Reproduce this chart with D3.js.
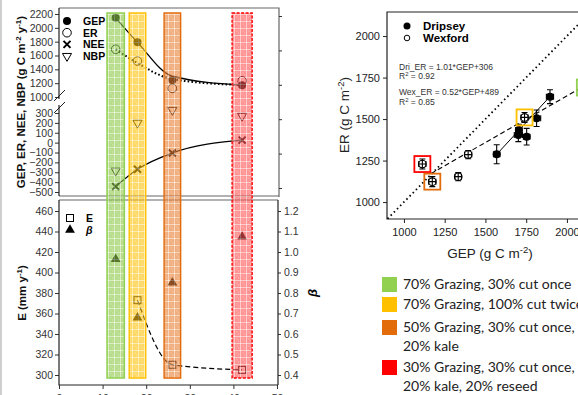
<!DOCTYPE html>
<html>
<head>
<meta charset="utf-8">
<script src="https://cdn.jsdelivr.net/npm/d3@7"></script>
<style>
body { margin: 0; background: #fff; overflow: hidden; }
svg { display: block; font-family: "Liberation Sans", Arial, sans-serif; }
</style>
</head>
<body>
<script>
// ---- left panel data (one value per treatment)
var treatX = [13, 18, 26, 42];
var barHalf = [2, 1.9, 1.9, 2.3];
var treatColor = ["#92d050", "#ffc000", "#e36c0a", "#ff0000"];
var treatFill = ["#86c440", "#ffbf00", "#e8782a", "#ff4d4d"];
var gep = [2145, 1790, 1245, 1170];
var er = [1690, 1520, 1125, 1235];
var nee = [-445, -270, -105, 25];
var nbp = [-285, 200, 330, 270];
var gepFit = [2145, 1790, 1300, 1172];
var erFit = [1690, 1490, 1258, 1172];
var evapX = [18, 26, 42];
var evap = [373, 310, 305];
var beta = [0.965, 0.68, 0.85, 1.075];
var hiTicks = [1000, 1200, 1400, 1600, 1800, 2000, 2200];
var loTicks = [-500, -400, -300, -200, -100, 0, 100, 200, 300];
var eTicks = [300, 320, 340, 360, 380, 400, 420, 440, 460];
var betaTicks = [0.4, 0.5, 0.6, 0.7, 0.8, 0.9, 1.0, 1.1, 1.2];
var xTicks = [0, 10, 20, 30, 40, 50];

// ---- right panel data
var wexGep = [1113, 1174, 1333, 1394, 1740, 2110];
var wexEr = [1229, 1123, 1153, 1286, 1510, 1690];
var wexGepErr = [22, 22, 20, 22, 22, 25];
var wexErErr = [30, 30, 25, 25, 30, 40];
var wexBox = ["#ff0000", "#e36c0a", null, null, "#ffc000", "#92d050"];
var driGep = [1569, 1702, 1705, 1753, 1814, 1896];
var driEr = [1288, 1404, 1434, 1394, 1505, 1635];
var driGepErr = [20, 25, 20, 20, 25, 22];
var driErErr = [57, 40, 35, 50, 50, 42];
var wexFitGep = [1165, 2170], wexFitEr = [1171, 1735];
var driFitGep = [1565, 1900], driFitEr = [1283, 1640];
var oneToOne = [880, 2200];
var gTicks = [1000, 1250, 1500, 1750, 2000];
var legendText = [
  ["70% Grazing, 30% cut once"],
  ["70% Grazing, 100% cut twice"],
  ["50% Grazing, 30% cut once,", "20% kale"],
  ["30% Grazing, 30% cut once,", "20% kale, 20% reseed"]
];

var svg = d3.select("body").append("svg").attr("width", 578).attr("height", 395);
var defs = svg.append("defs");

// hatched pattern for the treatment bars
treatColor.forEach(function(c, i) {
  var p = defs.append("pattern").attr("id", "pat" + i)
    .attr("patternUnits", "userSpaceOnUse").attr("width", 6).attr("height", 7);
  p.append("rect").attr("width", 6).attr("height", 7).attr("fill", treatFill[i]);
  p.append("path").attr("d", "M0,0.5H6M0.5,0V7").attr("stroke", "#fff").attr("stroke-opacity", 0.5).attr("stroke-width", 1);
  p.append("path").attr("d", "M2.5,3h1M4,5h1").attr("stroke", "#fff").attr("stroke-opacity", 0.4).attr("stroke-width", 1);
});

// ---- left panel scales
var x = d3.scaleLinear().domain([0, 50]).range([59, 277]);
var yHi = d3.scaleLinear().domain([1000, 2200]).range([97, 14]);
var yLo = d3.scaleLinear().domain([-500, 300]).range([192, 113]);
var yE = d3.scaleLinear().domain([300, 460]).range([375, 211]);
var yB = d3.scaleLinear().domain([0.4, 1.2]).range([375, 211]);
var yDummy = d3.scaleLinear().domain([0, 5]).range([188, 16]);

// outer frame line
svg.append("line").attr("x1", 1).attr("x2", 1).attr("y1", 0).attr("y2", 395)
  .attr("stroke", "#cfcfcf").attr("stroke-width", 2);

var left = svg.append("g").style("font-size", "10.5px");

// subplot frames
left.append("path").attr("d", "M59,8H279V197M59,196H279")
  .attr("fill", "none").attr("stroke", "#666").attr("stroke-width", 1.2);
left.append("path").attr("d", "M59,200H278")
  .attr("fill", "none").attr("stroke", "#666").attr("stroke-width", 1.2);

function styleAxis(g) {
  g.select(".domain").remove();
  g.selectAll(".tick line").attr("stroke", "#333");
  g.selectAll(".tick text").attr("fill", "#333").style("font-size", "10.5px")
    .style("font-family", "Liberation Sans, Arial, sans-serif");
}

left.append("g").attr("transform", "translate(59,0)")
  .call(d3.axisLeft(yHi).tickValues(hiTicks).tickSize(4).tickPadding(2).tickFormat(d3.format("d"))).call(styleAxis);
left.append("g").attr("transform", "translate(59,0)")
  .call(d3.axisLeft(yLo).tickValues(loTicks).tickSize(4).tickPadding(2).tickFormat(d3.format("d"))).call(styleAxis);
left.append("g").attr("transform", "translate(279,0)")
  .call(d3.axisRight(yDummy).ticks(5).tickSize(3).tickFormat("")).call(styleAxis);
left.append("g").attr("transform", "translate(59,0)")
  .call(d3.axisLeft(yE).tickValues(eTicks).tickSize(4).tickPadding(2).tickFormat(d3.format("d"))).call(styleAxis);
left.append("g").attr("transform", "translate(278,0)")
  .call(d3.axisRight(yB).tickValues(betaTicks).tickSize(3).tickPadding(3).tickFormat(d3.format(".1f"))).call(styleAxis);
left.append("g").attr("transform", "translate(0,385)")
  .call(d3.axisBottom(x).tickValues(xTicks).tickSize(4).tickPadding(6)).call(styleAxis);

// axis lines with break
left.append("path").attr("d", "M59,8V99M59,105V196M59,200V385H278M278,200V385")
  .attr("fill", "none").attr("stroke", "#222").attr("stroke-width", 1.2);
left.append("path").attr("d", "M54,101L65,90M54,113L65,102")
  .attr("stroke", "#222").attr("stroke-width", 1);

// axis titles
var t1 = left.append("text").attr("transform", "translate(25,102) rotate(-90)")
  .attr("text-anchor", "middle").style("font-size", "11.5px").style("font-weight", "bold").attr("fill", "#111");
t1.append("tspan").text("GEP, ER, NEE, NBP (g C m");
t1.append("tspan").attr("dy", -4).style("font-size", "8px").text("-2");
t1.append("tspan").attr("dy", 4).text(" y");
t1.append("tspan").attr("dy", -4).style("font-size", "8px").text("-1");
t1.append("tspan").attr("dy", 4).text(")");

var t2 = left.append("text").attr("transform", "translate(26,293) rotate(-90)")
  .attr("text-anchor", "middle").style("font-size", "11.5px").style("font-weight", "bold").attr("fill", "#111");
t2.append("tspan").text("E (mm y");
t2.append("tspan").attr("dy", -4).style("font-size", "8px").text("-1");
t2.append("tspan").attr("dy", 4).text(")");

left.append("text").attr("transform", "translate(317,293) rotate(-90)")
  .attr("text-anchor", "middle").style("font-size", "13px").style("font-weight", "bold")
  .style("font-style", "italic").text("β");

// fitted curves
var lineHi = d3.line().x(function(d) { return x(d[0]); }).y(function(d) { return yHi(d[1]); }).curve(d3.curveMonotoneX);
var lineLo = d3.line().x(function(d) { return x(d[0]); }).y(function(d) { return yLo(d[1]); }).curve(d3.curveMonotoneX);
var lineE = d3.line().x(function(d) { return x(d[0]); }).y(function(d) { return yE(d[1]); }).curve(d3.curveMonotoneX);

left.append("path").datum(d3.zip(treatX, gepFit)).attr("d", lineHi)
  .attr("fill", "none").attr("stroke", "#000").attr("stroke-width", 1.3);
left.append("path").datum(d3.zip(treatX, erFit)).attr("d", lineHi)
  .attr("fill", "none").attr("stroke", "#000").attr("stroke-width", 2).attr("stroke-dasharray", "1.6,2.2");
left.append("path").datum(d3.zip(treatX, nee)).attr("d", lineLo)
  .attr("fill", "none").attr("stroke", "#000").attr("stroke-width", 1.3);
left.append("path").datum(d3.zip(evapX, evap)).attr("d", lineE)
  .attr("fill", "none").attr("stroke", "#000").attr("stroke-width", 1.2).attr("stroke-dasharray", "5,3");

// markers
var triDown = d3.symbol().type(d3.symbolTriangle).size(36);
var triUp = d3.symbol().type(d3.symbolTriangle).size(42);
var cross = "M-3.5,-3.5L3.5,3.5M-3.5,3.5L3.5,-3.5";

function markers(g, xs, ys, yScale, kind) {
  xs.forEach(function(xv, i) {
    var v = ys[i];
    if (v == null) return;
    drawMarker(g, "translate(" + x(xv) + "," + yScale(v) + ")", kind);
  });
}
function drawMarker(g, tx, kind) {
  if (kind === "gep") g.append("circle").attr("transform", tx).attr("r", 4).attr("fill", "#000");
  if (kind === "er") g.append("circle").attr("transform", tx).attr("r", 4.3).attr("fill", "none").attr("stroke", "#000").attr("stroke-width", 1);
  if (kind === "nee") g.append("path").attr("transform", tx).attr("d", cross).attr("stroke", "#000").attr("stroke-width", 2);
  if (kind === "nbp") g.append("path").attr("transform", tx + " rotate(180)").attr("d", triDown()).attr("fill", "none").attr("stroke", "#000").attr("stroke-width", 1);
  if (kind === "e") g.append("rect").attr("transform", tx).attr("x", -3.5).attr("y", -3.5).attr("width", 7).attr("height", 7).attr("fill", "none").attr("stroke", "#000").attr("stroke-width", 1);
  if (kind === "beta") g.append("path").attr("transform", tx).attr("d", triUp()).attr("fill", "#000");
}

markers(left, treatX, gep, yHi, "gep");
markers(left, treatX, er, yHi, "er");
markers(left, treatX, nee, yLo, "nee");
markers(left, treatX, nbp, yLo, "nbp");
markers(left, evapX, evap, yE, "e");
markers(left, treatX, beta, yB, "beta");

// treatment bars over both subplots
treatX.forEach(function(c, i) {
  left.append("rect")
    .attr("x", x(c - barHalf[i])).attr("width", x(c + barHalf[i]) - x(c - barHalf[i]))
    .attr("y", yHi(2215)).attr("height", yE(297) - yHi(2215))
    .attr("fill", "url(#pat" + i + ")").attr("fill-opacity", 0.6)
    .attr("stroke", treatColor[i]).attr("stroke-width", 1.4)
    .attr("stroke-dasharray", i === 3 ? "3,1.5" : null);
});

// legends
var legTop = [["gep", "GEP"], ["er", "ER"], ["nee", "NEE"], ["nbp", "NBP"]];
legTop.forEach(function(d, i) {
  var yy = 21 + i * 11.7;
  drawMarker(left, "translate(67," + yy + ")", d[0]);
  left.append("text").attr("x", 83).attr("y", yy + 4).style("font-weight", "bold").style("font-size", "10.5px").text(d[1]);
});
drawMarker(left, "translate(70,218)", "e");
left.append("text").attr("x", 86).attr("y", 222).style("font-weight", "bold").text("E");
drawMarker(left, "translate(70,230)", "beta");
left.append("text").attr("x", 86).attr("y", 234).style("font-weight", "bold").style("font-style", "italic").text("β");

// ---- right panel
var gx = d3.scaleLinear().domain([896, 2160]).range([387, 593]);
var gy = d3.scaleLinear().domain([898, 2145]).range([219, 12]);

defs.append("clipPath").attr("id", "clipR").append("rect")
  .attr("x", 387).attr("y", 12).attr("width", 200).attr("height", 207);

var right = svg.append("g");
right.append("path").attr("d", "M578,12H387V219H578").attr("fill", "none").attr("stroke", "#222").attr("stroke-width", 1.2);

function styleR(g) {
  g.select(".domain").remove();
  g.selectAll(".tick line").attr("stroke", "#222");
  g.selectAll(".tick text").attr("fill", "#222").style("font-size", "11px")
    .style("font-family", "Liberation Sans, Arial, sans-serif");
}
right.append("g").attr("transform", "translate(387,0)")
  .call(d3.axisLeft(gy).tickValues(gTicks).tickSize(4).tickPadding(3).tickFormat(d3.format("d"))).call(styleR);
right.append("g").attr("transform", "translate(0,219)")
  .call(d3.axisBottom(gx).tickValues(gTicks).tickSize(4).tickPadding(5).tickFormat(d3.format("d"))).call(styleR);

var t3 = right.append("text").attr("transform", "translate(349,115) rotate(-90)")
  .attr("text-anchor", "middle").style("font-size", "13.5px").attr("fill", "#222");
t3.append("tspan").text("ER (g C m");
t3.append("tspan").attr("dy", -5).style("font-size", "9.5px").text("-2");
t3.append("tspan").attr("dy", 5).text(")");
var t4 = right.append("text").attr("x", 490).attr("y", 258)
  .attr("text-anchor", "middle").style("font-size", "13.5px").attr("fill", "#222");
t4.append("tspan").text("GEP (g C m");
t4.append("tspan").attr("dy", -5).style("font-size", "9.5px").text("-2");
t4.append("tspan").attr("dy", 5).text(")");

var plot = right.append("g").attr("clip-path", "url(#clipR)");
plot.append("line").attr("x1", gx(oneToOne[0])).attr("y1", gy(oneToOne[0]))
  .attr("x2", gx(oneToOne[1])).attr("y2", gy(oneToOne[1]))
  .attr("stroke", "#000").attr("stroke-width", 1.8).attr("stroke-dasharray", "1.5,3");
plot.append("line").attr("x1", gx(wexFitGep[0])).attr("y1", gy(wexFitEr[0]))
  .attr("x2", gx(wexFitGep[1])).attr("y2", gy(wexFitEr[1]))
  .attr("stroke", "#000").attr("stroke-width", 1.1).attr("stroke-dasharray", "5,3");
plot.append("line").attr("x1", gx(driFitGep[0])).attr("y1", gy(driFitEr[0]))
  .attr("x2", gx(driFitGep[1])).attr("y2", gy(driFitEr[1]))
  .attr("stroke", "#000").attr("stroke-width", 1);

function errBars(g, xs, ys, xe, ye) {
  xs.forEach(function(xv, i) {
    var cx = gx(xv), cy = gy(ys[i]);
    var x0 = gx(xv - xe[i]), x1 = gx(xv + xe[i]);
    var y0 = gy(ys[i] - ye[i]), y1 = gy(ys[i] + ye[i]);
    g.append("path").attr("d",
      "M" + x0 + "," + cy + "H" + x1 + "M" + x0 + "," + (cy - 3) + "V" + (cy + 3) + "M" + x1 + "," + (cy - 3) + "V" + (cy + 3) +
      "M" + cx + "," + y0 + "V" + y1 + "M" + (cx - 3) + "," + y0 + "H" + (cx + 3) + "M" + (cx - 3) + "," + y1 + "H" + (cx + 3))
      .attr("fill", "none").attr("stroke", "#000").attr("stroke-width", 1.1);
  });
}

wexGep.forEach(function(v, i) {
  plot.append("circle").attr("cx", gx(v)).attr("cy", gy(wexEr[i])).attr("r", 3.8)
    .attr("fill", "#fff").attr("stroke", "#000").attr("stroke-width", 1.1);
});
errBars(plot, wexGep, wexEr, wexGepErr, wexErErr);
driGep.forEach(function(v, i) {
  plot.append("circle").attr("cx", gx(v)).attr("cy", gy(driEr[i])).attr("r", 4).attr("fill", "#000");
});
errBars(plot, driGep, driEr, driGepErr, driErErr);
wexGep.forEach(function(v, i) {
  if (!wexBox[i]) return;
  plot.append("rect").attr("x", gx(v) - 8).attr("y", gy(wexEr[i]) - 8).attr("width", 16).attr("height", 16)
    .attr("fill", "none").attr("stroke", wexBox[i]).attr("stroke-width", 1.8);
});

// scatter legend and equations
right.append("circle").attr("cx", 407).attr("cy", 26).attr("r", 3.5).attr("fill", "#000");
right.append("circle").attr("cx", 407).attr("cy", 38).attr("r", 2.8).attr("fill", "#fff").attr("stroke", "#000").attr("stroke-width", 1);
right.append("text").attr("x", 423).attr("y", 30).style("font-size", "11.5px").style("font-weight", "bold").text("Dripsey");
right.append("text").attr("x", 423).attr("y", 42).style("font-size", "11.5px").style("font-weight", "bold").text("Wexford");

var eq = right.append("g").style("font-size", "8.5px").attr("fill", "#333");
function eqLine(yy, a, b) {
  var t = eq.append("text").attr("x", 399).attr("y", yy);
  t.append("tspan").text(a);
  if (b) { t.append("tspan").attr("dy", -3).style("font-size", "6px").text("2"); t.append("tspan").attr("dy", 3).text(b); }
}
eqLine(70, "Dri_ER = 1.01*GEP+306");
eqLine(79, "R", " = 0.92");
eqLine(95, "Wex_ER = 0.52*GEP+489");
eqLine(105, "R", " = 0.85");

// treatment legend
var leg = svg.append("g").style("font-family", "Lato, 'Open Sans', sans-serif").style("font-size", "14px").attr("fill", "#222");
var legY = [277, 297, 320, 360];
legendText.forEach(function(lines, i) {
  leg.append("rect").attr("x", 382).attr("y", legY[i]).attr("width", 15).attr("height", 15).attr("fill", treatColor[i]);
  lines.forEach(function(s, j) {
    leg.append("text").attr("x", 403).attr("y", legY[i] + 12 + j * 19).text(s);
  });
});
</script>
</body>
</html>
